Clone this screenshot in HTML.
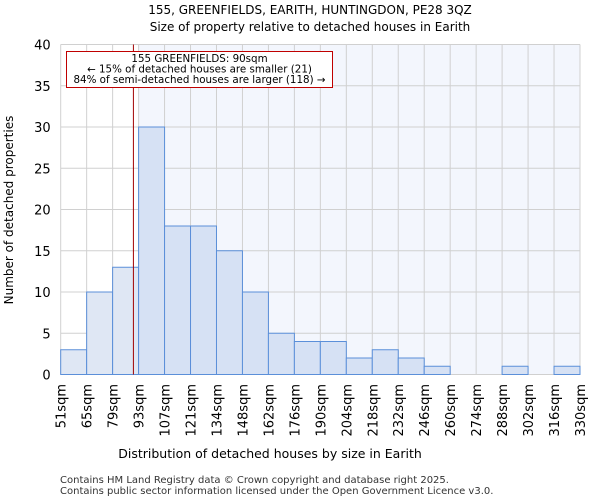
<!DOCTYPE html>
<html><head><meta charset="utf-8"><style>
body{margin:0;background:#fff;font-family:"DejaVu Sans","Liberation Sans",sans-serif;}
</style></head><body>
<svg width="600" height="500" xmlns="http://www.w3.org/2000/svg" font-family="DejaVu Sans, Liberation Sans, sans-serif">
<text x="310" y="14" text-anchor="middle" font-size="12">155, GREENFIELDS, EARITH, HUNTINGDON, PE28 3QZ</text>
<text x="310" y="31" text-anchor="middle" font-size="12">Size of property relative to detached houses in Earith</text>
<g id="plot"></g>
<text x="270" y="458" text-anchor="middle" font-size="12.5">Distribution of detached houses by size in Earith</text>
<text transform="translate(13,210) rotate(-90)" text-anchor="middle" font-size="12">Number of detached properties</text>
<text x="60" y="483" font-size="10" fill="#333">Contains HM Land Registry data © Crown copyright and database right 2025.</text>
<text x="60" y="494" font-size="10" fill="#333">Contains public sector information licensed under the Open Government Licence v3.0.</text>
</svg>
<script>
const binLabels=["51sqm","65sqm","79sqm","93sqm","107sqm","121sqm","134sqm","148sqm","162sqm","176sqm","190sqm","204sqm","218sqm","232sqm","246sqm","260sqm","274sqm","288sqm","302sqm","316sqm","330sqm"];
const counts=[3,10,13,30,18,18,15,10,5,4,4,2,3,2,1,0,0,1,0,1];
const yTicks=[0,5,10,15,20,25,30,35,40];
const markerBin=2.8; // 90sqm in bin units
const NS="http://www.w3.org/2000/svg";
const L=60.7,R=580,T=44.5,B=374.5,yMax=40;
const bw=(R-L)/counts.length;
const x=i=>L+i*bw, y=v=>B-(v/yMax)*(B-T);
const g=document.getElementById('plot');
function mk(t,a){const e=document.createElementNS(NS,t);for(const k in a)e.setAttribute(k,a[k]);g.appendChild(e);return e;}
let e=mk('rect',{x:x(3),y:T,width:R-x(3),height:B-T,fill:'#f3f6fd'});

for(let i=0;i<=counts.length;i++){e=mk('line',{x1:x(i),x2:x(i),y1:T,y2:B,stroke:'#d0d0d0','stroke-width':1});
}
yTicks.forEach(v=>{e=mk('line',{x1:L,x2:R,y1:y(v),y2:y(v),stroke:'#d0d0d0','stroke-width':1});

e=mk('text',{x:L-10,y:y(v)+5,'text-anchor':'end','font-size':13});e.textContent=v;
});
counts.forEach((c,i)=>{if(c<=0)return;e=mk('rect',{x:x(i),y:y(c),width:bw,height:B-y(c),fill:i<3?'#dfe7f4':'#d6e1f4',stroke:'#5b8fd9','stroke-width':1});
});
binLabels.forEach((s,i)=>{e=mk('text',{transform:`translate(${x(i)+5},384) rotate(-90)`,'text-anchor':'end','font-size':13});e.textContent=s;
});
e=mk('line',{x1:x(markerBin),x2:x(markerBin),y1:T,y2:B,stroke:'#a00000','stroke-width':1});

e=mk('rect',{x:66.5,y:51.5,width:266,height:36,fill:'#fff',stroke:'#c00000','stroke-width':1});

["155 GREENFIELDS: 90sqm","← 15% of detached houses are smaller (21)","84% of semi-detached houses are larger (118) →"].forEach((t,i)=>{
e=mk('text',{x:199.5,y:62+i*10.5,'text-anchor':'middle','font-size':10.3});e.textContent=t;
});
</script>
</body></html>
